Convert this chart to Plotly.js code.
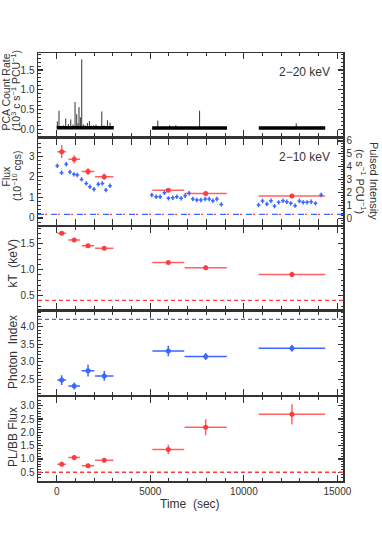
<!DOCTYPE html>
<html>
<head>
<meta charset="utf-8">
<script src="https://cdn.plot.ly/plotly-3.0.1.min.js"></script>
<style>html,body{margin:0;padding:0;background:#fff;}#chart{width:382px;height:534px;}</style>
</head>
<body>
<div id="chart"></div>
<script>
// ---------------- data ----------------
// light curve (2-20 keV), 10^3 c/s/PCU
const lcSegStart = [0, 5100, 10800];
const lcSegEnd   = [3050, 9100, 14350];
const lcSegLevel = [0.04, 0.035, 0.035];
const spikeTime = [33, 123, 357, 482, 625, 750, 875, 980, 1070, 1140, 1193, 1265, 1337, 1425, 1515, 1640, 1747, 1836, 1961, 2100, 2230, 2410, 2530, 2710, 2850, 2960,
                   5404, 5708, 6029, 6368, 6690, 7136, 7635, 7938, 8206, 8563,
                   11230, 12120, 12800, 13460, 14085];
const spikePeak = [0.2, 0.47, 0.1, 0.27, 0.13, 0.25, 0.12, 0.69, 0.38, 0.15, 0.56, 0.3, 1.77, 0.12, 0.1, 0.16, 0.21, 0.09, 0.1, 0.12, 0.08, 0.45, 0.1, 0.23, 0.17, 0.08,
                   0.22, 0.07, 0.1, 0.1, 0.06, 0.06, 0.47, 0.07, 0.07, 0.07,
                   0.05, 0.06, 0.15, 0.06, 0.08];

// spectral fits
const specTime      = [267, 936, 1674, 2540, 5963, 7962, 12570];
const specHalfWidth = [235, 313, 337, 490, 850, 1130, 1780];
const flux     = [3.22, 2.85, 2.25, 2.0, 1.35, 1.19, 1.06];
const fluxErr  = [0.32, 0.2, 0.16, 0.16, 0.06, 0.05, 0.05];
const kT       = [1.70, 1.57, 1.46, 1.41, 1.14, 1.04, 0.91];
const kTErr    = [0.03, 0.03, 0.03, 0.03, 0.03, 0.04, 0.05];
const phIndex  = [2.48, 2.31, 2.75, 2.60, 3.31, 3.15, 3.39];
const phIndexErr = [0.14, 0.1, 0.17, 0.14, 0.15, 0.1, 0.1];
const plbb     = [0.80, 1.05, 0.74, 0.95, 1.36, 2.19, 2.68];
const plbbErr  = [0.07, 0.1, 0.07, 0.08, 0.17, 0.3, 0.38];

// pulsed intensity (c/s/PCU)
const pulseTime = [33, 260, 510, 705, 920, 1100, 1330, 1580, 1775, 1990, 2220, 2440, 2630, 2845,
                   5083, 5313, 5527, 5757, 5971, 6206, 6420, 6650, 6864, 7078, 7276, 7490, 7704, 7934, 8148, 8346, 8560, 8795,
                   10787, 11000, 11230, 11450, 11640, 11860, 12090, 12300, 12510, 12740, 12970, 13170, 13380, 13600, 13830, 14130];
const pulse = [4.08, 3.54, 4.19, 3.59, 3.41, 3.36, 3.02, 2.71, 2.45, 2.25, 2.64, 2.71, 2.19, 2.53,
               1.81, 1.67, 1.67, 1.98, 1.55, 1.60, 1.67, 1.55, 1.75, 1.94, 1.50, 1.42, 1.42, 1.50, 1.50, 1.36, 1.50, 1.08,
               1.03, 1.34, 1.11, 1.36, 0.95, 1.24, 1.36, 1.29, 1.16, 0.98, 1.34, 1.24, 1.24, 1.29, 1.16, 1.81];
const pulseTimeErr = 100;
const pulseErr = 0.17;

// reference levels
const bgFlux = 0.17;
const kTRef = 0.41;
const indexRef = 4.21;
const plbbRef = 0.5;

// ---------------- styles ----------------
const RED = '#ff3b3b', REDERR = 'rgba(255,70,70,0.85)', BLUE = '#3a68ff', AX = '#333';
const FONT = 'Liberation Sans, Arial, sans-serif';

// light curve traces
const baseX = [], baseY = [];
lcSegStart.forEach((s, i) => { baseX.push(s, lcSegEnd[i], null); baseY.push(lcSegLevel[i], lcSegLevel[i], null); });
const spX = [], spY = [];
spikeTime.forEach((t, i) => { spX.push(t, t, null); spY.push(0.02, spikePeak[i], null); });

function redPts(y, err, xa, ya) {
  return {x: specTime, y: y, xaxis: xa, yaxis: ya, mode: 'markers', type: 'scatter',
    marker: {color: RED, size: 5, symbol: 'circle'},
    error_x: {type: 'data', array: specHalfWidth, width: 0, thickness: 1.5, color: REDERR},
    error_y: {type: 'data', array: err, width: 0, thickness: 1.5, color: REDERR},
    showlegend: false, hoverinfo: 'skip'};
}
function bluePts(y, err, xa, ya) {
  const o = redPts(y, err, xa, ya);
  o.marker = {color: BLUE, size: 5};
  o.error_x.color = BLUE; o.error_y.color = BLUE;
  return o;
}

const traces = [
  {x: spX, y: spY, xaxis: 'x', yaxis: 'y', mode: 'lines', line: {color: '#333', width: 1}, showlegend: false, hoverinfo: 'skip'},
  {x: baseX, y: baseY, xaxis: 'x', yaxis: 'y', mode: 'lines', line: {color: '#000', width: 3.5}, showlegend: false, hoverinfo: 'skip'},
  redPts(flux, fluxErr, 'x2', 'y2'),
  {x: pulseTime, y: pulse, xaxis: 'x2', yaxis: 'y6', mode: 'markers', type: 'scatter',
    marker: {color: BLUE, size: 1},
    error_x: {type: 'constant', value: pulseTimeErr, width: 0, thickness: 1.5, color: BLUE},
    error_y: {type: 'constant', value: pulseErr, width: 0, thickness: 1.5, color: BLUE},
    showlegend: false, hoverinfo: 'skip'},
  redPts(kT, kTErr, 'x3', 'y3'),
  bluePts(phIndex, phIndexErr, 'x4', 'y4'),
  redPts(plbb, plbbErr, 'x5', 'y5')
];

// ---------------- layout ----------------
const xRange = [-1000, 15300];
function xax(anchor, labels) {
  return {range: xRange, anchor: anchor, showline: true, linecolor: AX, linewidth: 1.5, mirror: 'allticks',
    ticks: 'inside', ticklen: 6, tickwidth: 1.2, tickcolor: AX, tick0: 0, dtick: 5000,
    minor: {ticks: 'inside', dtick: 1000, ticklen: 3, tickcolor: AX, tickwidth: 1},
    showgrid: false, zeroline: false, showticklabels: labels, tickformat: 'd',
    tickfont: {family: FONT, size: 10, color: AX}};
}
function yax(dom, range, dtick, minor, fmt, mirror) {
  return {domain: dom, range: range, showline: true, linecolor: AX, linewidth: 1.5,
    mirror: mirror === undefined ? 'allticks' : mirror,
    ticks: 'inside', ticklen: 5, tickwidth: 1.2, tickcolor: AX, dtick: dtick, tick0: 0,
    minor: {ticks: 'inside', dtick: minor, ticklen: 2.5, tickcolor: AX, tickwidth: 1},
    showgrid: false, zeroline: false, tickformat: fmt,
    tickfont: {family: FONT, size: 10, color: AX}};
}

const H = 428, L = 38, W = 305, T = 53;
const py = p => (T + H - p) / H;       // pixel y -> paper
const px = p => (p - L) / W;           // pixel x -> paper

function ytitle(text, xp, yp, angle, size) {
  return {text: text, xref: 'paper', yref: 'paper', x: px(xp), y: py(yp), xanchor: 'center', yanchor: 'middle',
    textangle: angle, showarrow: false, font: {size: size, color: AX}};
}

const layout = {
  width: 382, height: 534,
  margin: {l: L, r: 382 - L - W, t: T, b: 534 - T - H, pad: 0},
  paper_bgcolor: '#fff', plot_bgcolor: '#fff', showlegend: false,
  font: {family: FONT, color: AX},
  xaxis: xax('y', false), xaxis2: xax('y2', false), xaxis3: xax('y3', false),
  xaxis4: xax('y4', false), xaxis5: xax('y5', true),
  yaxis:  Object.assign(yax([py(136), 1], [-0.17, 1.93], 0.5, 0.1, '.1f'), {anchor: 'x'}),
  yaxis2: Object.assign(yax([py(224.5), py(139.3)], [-0.32, 3.82], 1, 0.2, 'd', false), {anchor: 'x2'}),
  yaxis3: Object.assign(yax([py(309.3), py(226.5)], [0.24, 1.83], 0.5, 0.1, '.1f'), {anchor: 'x3'}),
  yaxis4: Object.assign(yax([py(394.5), py(311.7)], [2.07, 4.43], 0.5, 0.1, '.1f'), {anchor: 'x4'}),
  yaxis5: Object.assign(yax([0, py(397.3)], [0.17, 3.32], 0.5, 0.1, '.1f'), {anchor: 'x5'}),
  yaxis6: Object.assign(yax([py(224.5), py(139.3)], [-0.48, 6.13], 1, 0.2, 'd', false),
          {anchor: 'x2', overlaying: 'y2', side: 'right'}),
  shapes: [
    {type: 'line', xref: 'x2 domain', x0: 0, x1: 1, yref: 'y2', y0: bgFlux, y1: bgFlux, line: {color: BLUE, width: 1.3, dash: '6px,7px'}},
    {type: 'line', xref: 'x2 domain', x0: 0.023, x1: 1, yref: 'y2', y0: bgFlux, y1: bgFlux, line: {color: RED, width: 1.3, dash: '2px,11px'}},
    {type: 'line', xref: 'x3 domain', x0: 0, x1: 1, yref: 'y3', y0: kTRef, y1: kTRef, line: {color: RED, width: 1.3, dash: '4px,3px'}},
    {type: 'line', xref: 'x4 domain', x0: 0, x1: 1, yref: 'y4', y0: indexRef, y1: indexRef, line: {color: BLUE, width: 1.3, dash: '4px,3px'}},
    {type: 'line', xref: 'x5 domain', x0: 0, x1: 1, yref: 'y5', y0: plbbRef, y1: plbbRef, line: {color: RED, width: 1.3, dash: '4px,3px'}}
  ],
  annotations: [
    {text: '2\u221220 keV', xref: 'paper', yref: 'paper', x: px(332), y: py(72), xanchor: 'right', yanchor: 'middle', showarrow: false, font: {size: 12, color: AX}},
    {text: '2\u221210 keV', xref: 'paper', yref: 'paper', x: px(332), y: py(157), xanchor: 'right', yanchor: 'middle', showarrow: false, font: {size: 12, color: AX}},
    ytitle('PCA Count Rate', 5.5, 92, -90, 10.5),
    ytitle('(10<sup>3</sup> c s<sup>\u22121</sup> PCU<sup>\u22121</sup>)', 16, 91, -90, 10.5),
    ytitle('Flux', 5.5, 176, -90, 10.5),
    ytitle('(10<sup>\u221210</sup> cgs)', 16, 176, -90, 10.5),
    ytitle('kT  (keV)', 12.5, 264, -90, 12),
    ytitle('Photon  Index', 12.5, 352.5, -90, 12),
    ytitle('PL/BB Flux', 12.5, 437.5, -90, 12),
    ytitle('Pulsed Intensity', 374, 181, 90, 11),
    ytitle('(c s<sup>\u22121</sup> PCU<sup>\u22121</sup>)', 361, 181, 90, 11),
    {text: 'Time  (sec)', xref: 'paper', yref: 'paper', x: px(190), y: py(504), xanchor: 'center', yanchor: 'middle', showarrow: false, font: {size: 12, color: AX}}
  ]
};

Plotly.newPlot('chart', traces, layout, {staticPlot: true, displayModeBar: false});
</script>
</body>
</html>
